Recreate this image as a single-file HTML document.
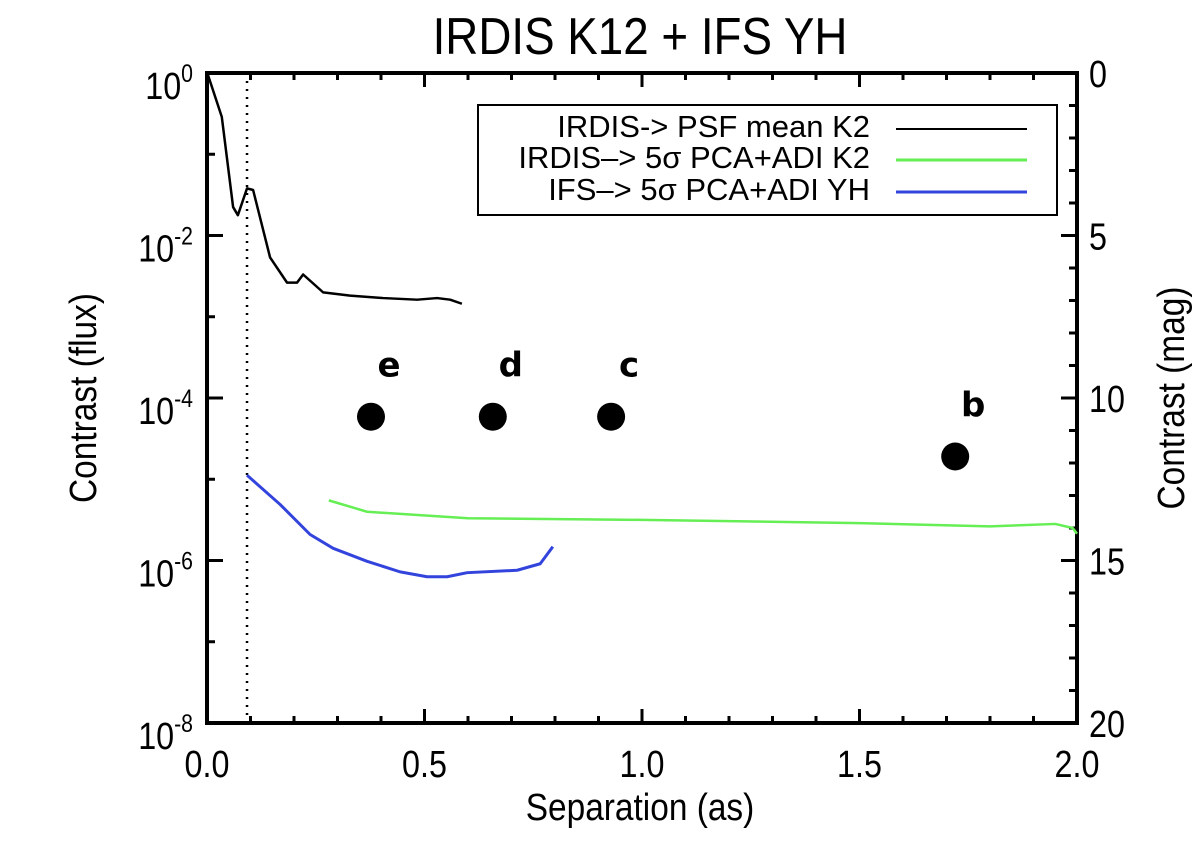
<!DOCTYPE html>
<html><head><meta charset="utf-8"><style>
html,body{margin:0;padding:0;background:#fff;}
svg{display:block;font-family:"Liberation Sans",sans-serif;}
</style></head><body>
<svg id="chart" width="1200" height="843" viewBox="0 0 1200 843">
<text transform="translate(640,54) scale(0.88,1)" font-size="52" text-anchor="middle">IRDIS K12 + IFS YH</text>
<g id="axes"></g>
<g id="series"></g>
<g id="legend">
<rect x="478" y="105" width="579" height="110" fill="#fff" stroke="#000" stroke-width="2"/>
<text transform="translate(870,137)" font-size="31" text-anchor="end">IRDIS-&gt; PSF mean K2</text>
<line x1="896" y1="129" x2="1027" y2="129" stroke="#000" stroke-width="2"/>
<text transform="translate(870,168)" font-size="31" text-anchor="end">IRDIS–&gt; 5σ PCA+ADI K2</text>
<line x1="896" y1="160" x2="1027" y2="160" stroke="#66ee55" stroke-width="3"/>
<text transform="translate(870,200)" font-size="31" text-anchor="end">IFS–&gt; 5σ PCA+ADI YH</text>
<line x1="896" y1="192" x2="1027" y2="192" stroke="#3344dd" stroke-width="3"/>
</g>
<text transform="translate(96,398) rotate(-90) scale(0.88,1)" font-size="38" text-anchor="middle">Contrast (flux)</text>
<text transform="translate(1184,398) rotate(-90) scale(0.88,1)" font-size="38" text-anchor="middle">Contrast (mag)</text>
<text transform="translate(640,820) scale(0.88,1)" font-size="38" text-anchor="middle">Separation (as)</text>
</svg>
<script>
const psfX=[0.002,0.034,0.060,0.071,0.092,0.106,0.145,0.184,0.207,0.221,0.267,0.329,0.405,0.483,0.529,0.559,0.586];
const psfLog=[-0.02,-0.54,-1.65,-1.75,-1.42,-1.44,-2.27,-2.58,-2.58,-2.48,-2.70,-2.74,-2.77,-2.79,-2.77,-2.79,-2.84];
const ifsX=[0.092,0.168,0.237,0.290,0.368,0.444,0.506,0.552,0.598,0.713,0.766,0.795];
const ifsLog=[-4.95,-5.31,-5.68,-5.85,-6.01,-6.14,-6.20,-6.20,-6.15,-6.12,-6.04,-5.83];
const irdisX=[0.28,0.368,0.6,1.0,1.5,1.8,1.95,1.99,2.0];
const irdisLog=[-5.26,-5.40,-5.48,-5.50,-5.54,-5.58,-5.55,-5.60,-5.67];
const planetNames=["e","d","c","b"];
const planetX=[0.377,0.657,0.929,1.72];
const planetLog=[-4.23,-4.23,-4.23,-4.72];
const xTicks=[0.0,0.5,1.0,1.5,2.0];
const xTickLabels=["0.0","0.5","1.0","1.5","2.0"];
const yTicks=[0,-2,-4,-6,-8];
const magTicks=[0,5,10,15,20];
const iwa=0.092;

const L=207,R=1077,T=73,B=723;
const X=v=>L+(v/2)*(R-L);
const Y=lg=>T+(-lg/8)*(B-T);
const YM=m=>T+(m/20)*(B-T);
const NS="http://www.w3.org/2000/svg";
function mk(tag,attrs,parent){const e=document.createElementNS(NS,tag);for(const k in attrs)e.setAttribute(k,attrs[k]);parent.appendChild(e);return e;}
const ax=document.getElementById('axes'), se=document.getElementById('series');

let fr=mk('rect',{x:L,y:T,width:R-L,height:B-T,fill:'none',stroke:'#000','stroke-width':4},ax);


for(let v=0;v<=2.0001;v+=0.1){
  const major=Math.abs(v*2-Math.round(v*2))<1e-6; const len=major?14:7;
  mk('line',{x1:X(v),y1:B,x2:X(v),y2:B-len,stroke:'#000','stroke-width':3},ax);
  mk('line',{x1:X(v),y1:T,x2:X(v),y2:T+len,stroke:'#000','stroke-width':3},ax);
}
xTicks.forEach((v,i)=>{const t=mk('text',{transform:`translate(${X(v)},777) scale(0.85,1)`,'font-size':38,'text-anchor':'middle'},ax);t.textContent=xTickLabels[i];

});
for(let lg=0;lg>=-8;lg--){const major=lg%2===0;const len=major?16:8;
  mk('line',{x1:L,y1:Y(lg),x2:L+len,y2:Y(lg),stroke:'#000','stroke-width':3},ax);}
yTicks.forEach(lg=>{const t=mk('text',{transform:`translate(${L-14},${Y(lg)+26}) scale(0.85,1)`,'font-size':38,'text-anchor':'end'},ax);
  t.textContent='10';const s=mk('tspan',{dy:-17,'font-size':25},t);s.textContent=String(lg);
  
  });
for(let m=0;m<=20;m++){const major=m%5===0;const len=major?16:8;
  mk('line',{x1:R-len,y1:YM(m),x2:R,y2:YM(m),stroke:'#000','stroke-width':3},ax);}
magTicks.forEach(m=>{const t=mk('text',{transform:`translate(${R+12},${YM(m)+14}) scale(0.85,1)`,'font-size':38},ax);t.textContent=String(m);

});

let d=mk('line',{x1:X(iwa),y1:T,x2:X(iwa),y2:B,stroke:'#000','stroke-width':2.5,'stroke-dasharray':'2 6'},se);


function path(xs,ls,col,w,name){const p=mk('path',{d:xs.map((v,i)=>(i?'L':'M')+X(v)+','+Y(ls[i])).join(' '),fill:'none',stroke:col,'stroke-width':w,'stroke-linejoin':'round'},se);
  
  }
path(psfX,psfLog,'#000',2.5,'psf-mean-line');
path(irdisX,irdisLog,'#66ee55',2.5,'irdis-pca-line');
path(ifsX,ifsLog,'#3344dd',3,'ifs-pca-line');
planetNames.forEach((n,i)=>{
  const c=mk('circle',{cx:X(planetX[i]),cy:Y(planetLog[i]),r:14,fill:'#000'},se);
  
  
  const t=mk('text',{x:X(planetX[i])+18,y:Y(planetLog[i])-40,'font-size':34,'font-weight':'bold','text-anchor':'middle','font-family':'DejaVu Sans, sans-serif'},se);
  t.textContent=n;
  
  
});
</script>
</body></html>
